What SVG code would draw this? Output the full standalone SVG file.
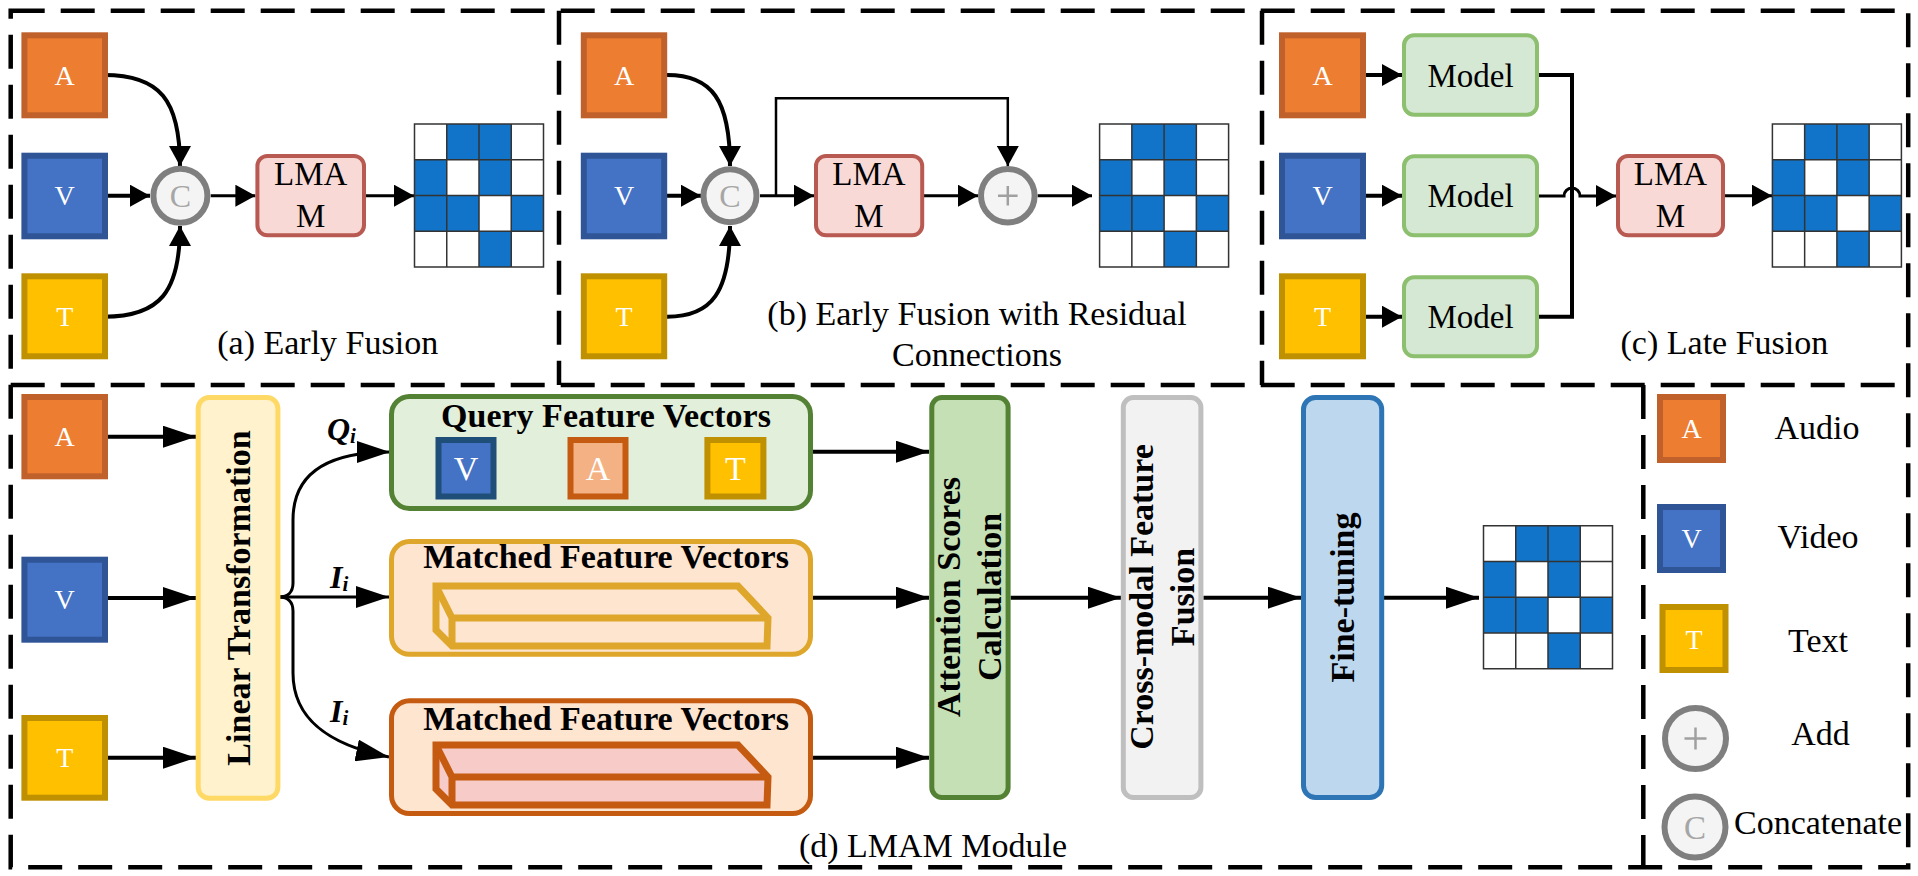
<svg xmlns="http://www.w3.org/2000/svg" width="1918" height="876" viewBox="0 0 1918 876">
<style>
.bg{fill:#ffffff}
.dash{fill:none;stroke:#000;stroke-width:4.5;stroke-dasharray:34 16}
.t{font-family:"Liberation Serif","Times New Roman",serif;fill:#000}
.lbl{font-size:34px}
.lm{font-size:33px}
.b{font-weight:bold;font-size:34px}
.w{fill:#fff;font-size:28px}
.ln{fill:none;stroke:#000;stroke-width:4}
.ln3{fill:none;stroke:#000;stroke-width:3}
.boxA{fill:#ED7D31;stroke:#C0612B;stroke-width:6}
.boxV{fill:#4472C4;stroke:#2F5597;stroke-width:6}
.boxT{fill:#FFC000;stroke:#BF9000;stroke-width:6}
.lmam{fill:#F8D9D6;stroke:#B85A52;stroke-width:4}
.model{fill:#D5E8D4;stroke:#8CBF6E;stroke-width:4}
.circ{fill:#F4F4F4;stroke:#7F7F7F;stroke-width:6}
.cg{fill:#A6A6A6;font-size:32px}
.plus{stroke:#A0A0A0;stroke-width:2.5}
.blue{fill:#1174C8}
.gl{fill:none;stroke:#333;stroke-width:1.5}
.qi{font-size:32px;font-weight:bold;font-style:italic}
.sub{font-size:21px}
</style>
<defs>
<marker id="as" markerUnits="userSpaceOnUse" markerWidth="20" markerHeight="22" refX="20" refY="11" orient="auto">
<path d="M0,0 L20,11 L0,22 z" fill="#000"/>
</marker>
<marker id="al" markerUnits="userSpaceOnUse" markerWidth="33" markerHeight="22" refX="33" refY="11" orient="auto">
<path d="M0,0 L33,11 L0,22 z" fill="#000"/>
</marker>
<g id="grid">
<rect x="0" y="0" width="129" height="143" fill="#fff"/>
<rect class="blue" x="32.25" y="0" width="32.25" height="35.75"/>
<rect class="blue" x="64.5" y="0" width="32.25" height="35.75"/>
<rect class="blue" x="0" y="35.75" width="32.25" height="35.75"/>
<rect class="blue" x="64.5" y="35.75" width="32.25" height="35.75"/>
<rect class="blue" x="0" y="71.5" width="32.25" height="35.75"/>
<rect class="blue" x="32.25" y="71.5" width="32.25" height="35.75"/>
<rect class="blue" x="96.75" y="71.5" width="32.25" height="35.75"/>
<rect class="blue" x="64.5" y="107.25" width="32.25" height="35.75"/>
<path class="gl" d="M0,0 H129 V143 H0 Z M32.25,0 V143 M64.5,0 V143 M96.75,0 V143 M0,35.75 H129 M0,71.5 H129 M0,107.25 H129"/>
</g>
</defs>
<rect class="bg" x="0" y="0" width="1918" height="876"/>

<g id="borders">
<rect class="dash" x="10.7" y="10.7" width="1897.5" height="856.5"/>
<line class="dash" x1="10.7" y1="385" x2="1908.2" y2="385"/>
<line class="dash" x1="559" y1="10.7" x2="559" y2="385"/>
<line class="dash" x1="1262" y1="10.7" x2="1262" y2="385"/>
<line class="dash" x1="1643.3" y1="385" x2="1643.3" y2="867.2"/>
</g>

<g id="connectors">
<!-- (a) -->
<path class="ln" d="M104,75 C160,75 180,100 180,166" marker-end="url(#as)"/>
<path class="ln" d="M104,195.7 L150,195.7" marker-end="url(#as)"/>
<path class="ln" d="M104,316.7 C160,316.7 180,292 180,226" marker-end="url(#as)"/>
<path class="ln3" d="M210.7,195.7 L255.4,195.7" marker-end="url(#as)"/>
<path class="ln3" d="M366,195.7 L414,195.7" marker-end="url(#as)"/>
<!-- (b) -->
<path class="ln" d="M667,75 C712,75 730,100 730,166" marker-end="url(#as)"/>
<path class="ln" d="M667,195.7 L701,195.7" marker-end="url(#as)"/>
<path class="ln" d="M667,316.7 C712,316.7 730,292 730,226" marker-end="url(#as)"/>
<path class="ln3" d="M760,195.7 L814,195.7" marker-end="url(#as)"/>
<path fill="none" stroke="#000" stroke-width="2.5" d="M776,195.7 L776,98.3 L1007.8,98.3 L1007.8,166" marker-end="url(#as)"/>
<path class="ln3" d="M924,195.7 L978,195.7" marker-end="url(#as)"/>
<path class="ln3" d="M1037.6,195.7 L1092,195.7" marker-end="url(#as)"/>
<!-- (c) -->
<path class="ln" d="M1366,75 L1402,75" marker-end="url(#as)"/>
<path class="ln" d="M1366,195.7 L1402,195.7" marker-end="url(#as)"/>
<path class="ln" d="M1366,316.7 L1402,316.7" marker-end="url(#as)"/>
<path class="ln" d="M1539,75 L1572,75 L1572,316.7 L1539,316.7"/>
<path class="ln3" d="M1539,196 L1564,196 A8,8 0 0 1 1580,196 L1616,196" marker-end="url(#as)"/>
<path class="ln3" d="M1725,195.7 L1772,195.7" marker-end="url(#as)"/>
<!-- (d) -->
<path class="ln" d="M104,436.7 L196,436.7" marker-end="url(#al)"/>
<path class="ln" d="M104,598 L196,598" marker-end="url(#al)"/>
<path class="ln" d="M104,757.7 L196,757.7" marker-end="url(#al)"/>
<path class="ln3" d="M279,597 C288,597 293,592 293,583 L293,520 C293,475 325,452 390,452" marker-end="url(#al)"/>
<path class="ln3" d="M279,597 L389,597" marker-end="url(#al)"/>
<path class="ln3" d="M279,597 C288,597 293,602 293,611 L293,673 C293,720 330,745 389,757" marker-end="url(#al)"/>
<path class="ln" d="M813,451.7 L929,451.7" marker-end="url(#al)"/>
<path class="ln" d="M813,597.7 L929,597.7" marker-end="url(#al)"/>
<path class="ln" d="M813,757.7 L929,757.7" marker-end="url(#al)"/>
<path class="ln" d="M1010.6,597.7 L1121,597.7" marker-end="url(#al)"/>
<path class="ln" d="M1203.4,597.7 L1301,597.7" marker-end="url(#al)"/>
<path class="ln" d="M1384,597.7 L1479,597.7" marker-end="url(#al)"/>
</g>

<!-- (a) Early Fusion -->
<g id="a-A"><rect class="boxA" x="24.4" y="35.3" width="80.6" height="80"/><text class="t w" x="64.7" y="84.5" text-anchor="middle">A</text></g>
<g id="a-V"><rect class="boxV" x="24.4" y="155.7" width="80.6" height="80.6"/><text class="t w" x="64.7" y="205" text-anchor="middle">V</text></g>
<g id="a-T"><rect class="boxT" x="24.4" y="276.3" width="80.6" height="80"/><text class="t w" x="64.7" y="325.5" text-anchor="middle">T</text></g>
<g id="a-concat"><circle class="circ" cx="180.4" cy="195.7" r="27"/><text class="t cg" x="180.4" y="207" text-anchor="middle">C</text></g>
<g id="a-lmam"><rect class="lmam" x="257.4" y="156" width="106.6" height="79.3" rx="10"/><text class="t lm" x="310.7" y="185" text-anchor="middle">LMA</text><text class="t lm" x="310.7" y="226.7" text-anchor="middle">M</text></g>
<g id="a-grid"><use href="#grid" x="414.5" y="124"/></g>
<g id="a-label"><text class="t lbl" x="327.7" y="354" text-anchor="middle">(a) Early Fusion</text></g>

<!-- (b) Early Fusion with Residual Connections -->
<g id="b-A"><rect class="boxA" x="583.8" y="35.3" width="80.4" height="80"/><text class="t w" x="624" y="84.5" text-anchor="middle">A</text></g>
<g id="b-V"><rect class="boxV" x="583.8" y="155.7" width="80.4" height="80.6"/><text class="t w" x="624" y="205" text-anchor="middle">V</text></g>
<g id="b-T"><rect class="boxT" x="583.8" y="276.3" width="80.4" height="80"/><text class="t w" x="624" y="325.5" text-anchor="middle">T</text></g>
<g id="b-concat"><circle class="circ" cx="730" cy="195.7" r="26.5"/><text class="t cg" x="730" y="207" text-anchor="middle">C</text></g>
<g id="b-lmam"><rect class="lmam" x="816" y="156" width="106.2" height="79.3" rx="10"/><text class="t lm" x="869" y="185" text-anchor="middle">LMA</text><text class="t lm" x="869" y="226.7" text-anchor="middle">M</text></g>
<g id="b-add"><circle class="circ" cx="1007.8" cy="195.7" r="26.8"/><path class="plus" d="M998,195.7 H1017.6 M1007.8,185.9 V205.5"/></g>
<g id="b-grid"><use href="#grid" x="1099.6" y="124"/></g>
<g id="b-label"><text class="t lbl" x="977" y="325" text-anchor="middle">(b) Early Fusion with Residual</text><text class="t lbl" x="977" y="365.7" text-anchor="middle">Connections</text></g>

<!-- (c) Late Fusion -->
<g id="c-A"><rect class="boxA" x="1282" y="35.3" width="81" height="80"/><text class="t w" x="1322.5" y="84.5" text-anchor="middle">A</text></g>
<g id="c-V"><rect class="boxV" x="1282" y="155.7" width="81" height="80.6"/><text class="t w" x="1322.5" y="205" text-anchor="middle">V</text></g>
<g id="c-T"><rect class="boxT" x="1282" y="276.3" width="81" height="80"/><text class="t w" x="1322.5" y="325.5" text-anchor="middle">T</text></g>
<g id="c-modelA"><rect class="model" x="1404" y="35.3" width="133" height="79.4" rx="10"/><text class="t lm" x="1470.5" y="86.5" text-anchor="middle">Model</text></g>
<g id="c-modelV"><rect class="model" x="1404" y="156.3" width="133" height="79" rx="10"/><text class="t lm" x="1470.5" y="207" text-anchor="middle">Model</text></g>
<g id="c-modelT"><rect class="model" x="1404" y="277.3" width="133" height="79" rx="10"/><text class="t lm" x="1470.5" y="328" text-anchor="middle">Model</text></g>
<g id="c-lmam"><rect class="lmam" x="1618" y="156" width="105" height="79.3" rx="10"/><text class="t lm" x="1670.5" y="185" text-anchor="middle">LMA</text><text class="t lm" x="1670.5" y="226.7" text-anchor="middle">M</text></g>
<g id="c-grid"><use href="#grid" x="1772.4" y="124"/></g>
<g id="c-label"><text class="t lbl" x="1724.4" y="354" text-anchor="middle">(c) Late Fusion</text></g>

<!-- (d) LMAM Module -->
<g id="d-A"><rect class="boxA" x="24.4" y="397" width="80.6" height="79.3"/><text class="t w" x="64.7" y="446" text-anchor="middle">A</text></g>
<g id="d-V"><rect class="boxV" x="24.4" y="559.7" width="80.6" height="80"/><text class="t w" x="64.7" y="608.5" text-anchor="middle">V</text></g>
<g id="d-T"><rect class="boxT" x="24.4" y="718" width="80.6" height="79.7"/><text class="t w" x="64.7" y="767" text-anchor="middle">T</text></g>
<g id="d-linear"><rect x="198.2" y="397.5" width="79.7" height="400.7" rx="11" fill="#FFF2CC" stroke="#FFD966" stroke-width="5"/><text class="t b" transform="translate(249.5,598) rotate(-90)" text-anchor="middle">Linear Transformation</text></g>
<g id="d-labels">
<text class="t qi" x="327" y="440">Q<tspan class="sub" dy="3">i</tspan></text>
<text class="t qi" x="330" y="588.3">I<tspan class="sub" dy="3">i</tspan></text>
<text class="t qi" x="330" y="721.7">I<tspan class="sub" dy="3">i</tspan></text>
</g>
<g id="d-query">
<rect x="391.5" y="396.5" width="419" height="112" rx="18" fill="#E2EFDA" stroke="#548235" stroke-width="5"/>
<text class="t b" x="606" y="426.7" text-anchor="middle">Query Feature Vectors</text>
<rect x="438.5" y="440" width="55" height="56.5" fill="#4472C4" stroke="#1F4E79" stroke-width="6"/>
<text class="t" x="466" y="480" text-anchor="middle" style="fill:#fff;font-size:34px">V</text>
<rect x="570.5" y="440" width="55" height="56.5" fill="#F4B183" stroke="#C55A11" stroke-width="6"/>
<text class="t" x="598" y="480" text-anchor="middle" style="fill:#fff;font-size:34px">A</text>
<rect x="707.4" y="440" width="56" height="56.5" fill="#FFC000" stroke="#BF9000" stroke-width="6"/>
<text class="t" x="735.4" y="480" text-anchor="middle" style="fill:#fff;font-size:34px">T</text>
</g>
<g id="d-matched1">
<rect x="391.5" y="541.5" width="419" height="112.7" rx="18" fill="#FDE5D0" stroke="#DEA72B" stroke-width="5"/>
<text class="t b" x="606" y="568.3" text-anchor="middle">Matched Feature Vectors</text>
<path d="M436,586 L738,586 L768,618 L767,646 L452,646 L436,630 Z" fill="#FDE5D0" stroke="#DEA72B" stroke-width="7" stroke-linejoin="miter"/>
<path d="M436,586 L452,618 L768,618 M452,618 L452,646" fill="none" stroke="#DEA72B" stroke-width="7"/>
</g>
<g id="d-matched2">
<rect x="391.5" y="700.8" width="419" height="112.7" rx="18" fill="#FDE5D0" stroke="#C55A11" stroke-width="5"/>
<text class="t b" x="606" y="730" text-anchor="middle">Matched Feature Vectors</text>
<path d="M436,745 L738,745 L768,777 L767,805 L452,805 L436,789 Z" fill="#F6CBC8" stroke="#C55A11" stroke-width="7" stroke-linejoin="miter"/>
<path d="M436,745 L452,777 L768,777 M452,777 L452,805" fill="none" stroke="#C55A11" stroke-width="7"/>
</g>
<g id="d-attention"><rect x="931.8" y="397.5" width="76.3" height="400" rx="10" fill="#C5E0B4" stroke="#548235" stroke-width="5"/><text class="t b" transform="translate(960,597) rotate(-90)" text-anchor="middle">Attention Scores</text><text class="t b" transform="translate(1001,597) rotate(-90)" text-anchor="middle">Calculation</text></g>
<g id="d-crossmodal"><rect x="1123.3" y="397.5" width="77.6" height="400" rx="10" fill="#F2F2F2" stroke="#BFBFBF" stroke-width="5"/><text class="t b" transform="translate(1153,597) rotate(-90)" text-anchor="middle">Cross-modal Feature</text><text class="t b" transform="translate(1194,597) rotate(-90)" text-anchor="middle">Fusion</text></g>
<g id="d-finetune"><rect x="1303.5" y="397.5" width="78.2" height="400" rx="12" fill="#BDD7EE" stroke="#2E75B6" stroke-width="5"/><text class="t b" transform="translate(1354,597.5) rotate(-90)" text-anchor="middle">Fine-tuning</text></g>
<g id="d-grid"><use href="#grid" x="1483.5" y="525.7"/></g>
<g id="d-label"><text class="t lbl" x="933" y="856.7" text-anchor="middle">(d) LMAM Module</text></g>

<!-- Legend -->
<g id="legend-audio"><rect class="boxA" x="1660" y="397" width="63" height="63"/><text class="t w" x="1691.5" y="438" text-anchor="middle">A</text><text class="t lbl" x="1817" y="439.3" text-anchor="middle">Audio</text></g>
<g id="legend-video"><rect class="boxV" x="1660" y="507" width="63" height="63"/><text class="t w" x="1691.5" y="548" text-anchor="middle">V</text><text class="t lbl" x="1818" y="548.3" text-anchor="middle">Video</text></g>
<g id="legend-text"><rect class="boxT" x="1662.5" y="607" width="63" height="63"/><text class="t w" x="1694" y="648.5" text-anchor="middle">T</text><text class="t lbl" x="1818" y="651.7" text-anchor="middle">Text</text></g>
<g id="legend-add"><circle class="circ" cx="1695.5" cy="738.5" r="30.5"/><path class="plus" d="M1684.5,738.5 H1706.5 M1695.5,727.5 V749.5"/><text class="t lbl" x="1820.5" y="745.3" text-anchor="middle">Add</text></g>
<g id="legend-concat"><circle class="circ" cx="1695" cy="827" r="30.5"/><text class="t cg" x="1695" y="838.5" text-anchor="middle" style="font-size:33px">C</text><text class="t lbl" x="1818" y="834" text-anchor="middle">Concatenate</text></g>
</svg>
